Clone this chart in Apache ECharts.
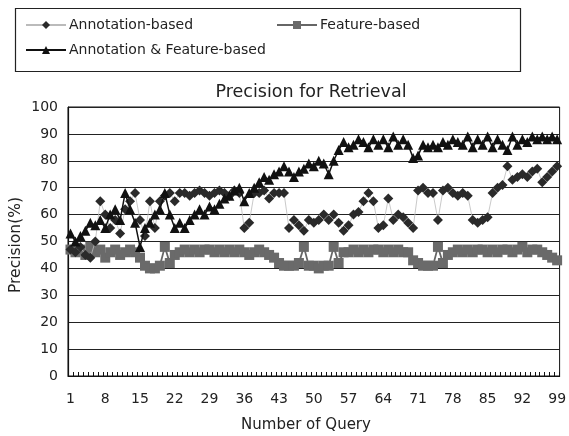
<!DOCTYPE html>
<html>
<head>
<meta charset="utf-8">
<script src="https://cdn.jsdelivr.net/npm/echarts@6/dist/echarts.min.js"></script>
<style>html,body{margin:0;padding:0;background:#fff}#c{width:569px;height:436px}</style>
</head>
<body>
<div id="c"></div>
<script>
var categories = [];
for (var i = 1; i <= 99; i++) categories.push(String(i));

var annotation = [47,46,48,45,44,50,65,60,55,58,53,62,65,68,58,52,65,55,65,67,
  68,65,68,68,67,68,69,68,67,68,69,68,67,69,68,55,57,68,68,69,
  66,68,68,68,55,58,56,54,58,57,58,60,58,60,57,54,56,60,61,65,
  68,65,55,56,66,58,60,59,57,55,69,70,68,68,58,69,70,68,67,68,
  67,58,57,58,59,68,70,71,78,73,74,75,74,76,77,72,74,76,78];

var feature = [47,46,47,45,48,46,47,44,46,47,45,46,47,46,44,41,40,40,41,48,
  42,45,46,47,46,47,46,47,47,46,47,46,47,46,47,46,45,46,47,46,
  45,44,42,41,41,41,42,48,41,41,40,41,41,48,42,46,46,47,46,47,
  46,47,47,46,47,46,47,46,46,43,42,41,41,41,48,42,45,46,47,46,
  47,46,47,47,46,47,46,47,47,46,47,48,46,47,47,46,45,44,43];

var combined = [53,50,52,54,57,56,58,55,60,62,58,68,62,57,48,55,57,60,62,68,
  60,55,57,55,58,60,62,60,63,62,64,66,67,69,70,65,68,70,72,74,
  73,75,76,78,76,74,76,77,79,78,80,79,75,80,84,87,85,86,88,87,
  85,88,86,88,85,89,86,88,86,81,82,86,85,86,85,87,86,88,87,86,
  89,85,88,86,89,85,88,86,84,89,86,88,87,89,88,89,88,89,88];

var yTicks = [0,10,20,30,40,50,60,70,80,90,100];
var seriesNames = ['Annotation-based','Feature-based','Annotation & Feature-based'];

var FONT = 'DejaVu Sans';
var chart = echarts.init(document.getElementById('c'), null, {renderer:'canvas'});
function legendAt(name, left, top){
  return {data:[name], left:left, top:top, orient:'horizontal', itemWidth:40, itemHeight:10,
    itemGap:4, textStyle:{fontFamily:FONT, fontSize:14, color:'#222', padding:[0,0,0,-2]},
    selectedMode:false, padding:0};
}
chart.setOption({
  animation:false,
  backgroundColor:'#fff',
  title:{text:'Precision for Retrieval', left:306, textAlign:'center', top:78,
    textStyle:{fontFamily:FONT, fontSize:17.5, fontWeight:'normal', color:'#222'}},
  graphic:[
    {type:'rect', shape:{x:15.5, y:8.5, width:505, height:63},
      style:{fill:'none', stroke:'#222', lineWidth:1.2}},
    {type:'text', x:306, y:425, style:{text:'Number of Query', x:0, y:0, align:'center', verticalAlign:'middle',
      font:'15px "DejaVu Sans"', fill:'#222'}},
    {type:'text', x:16, y:245, rotation:Math.PI/2, style:{text:'Precision(%)', x:0, y:0, align:'center', verticalAlign:'middle',
      font:'15.5px "DejaVu Sans"', fill:'#222'}}
  ],
  legend:[legendAt(seriesNames[0], 25, 18), legendAt(seriesNames[1], 276, 18), legendAt(seriesNames[2], 25, 43)],
  grid:{left:68, right:3, top:107, bottom:60, show:true, borderColor:'#111', borderWidth:1},
  xAxis:{type:'category', data:categories, boundaryGap:true,
    axisLine:{lineStyle:{color:'#111', width:1.2}},
    axisTick:{show:true, inside:true, length:4, interval:0, lineStyle:{color:'#111'}},
    axisLabel:{interval:6, fontFamily:FONT, fontSize:14, color:'#222', margin:16},
    splitLine:{show:false}},
  yAxis:{type:'value', min:0, max:100, interval:10,
    axisLine:{show:true, lineStyle:{color:'#111', width:1.2}},
    axisTick:{show:false},
    axisLabel:{fontFamily:FONT, fontSize:14, color:'#222', margin:10,
      formatter:function(v){return yTicks.indexOf(v)>=0 ? String(v) : '';}},
    splitLine:{show:true, lineStyle:{color:'#222', width:1}}},
  series:[
    {name:seriesNames[0], type:'line', data:annotation, symbol:'diamond', symbolSize:10, showAllSymbol:true,
      itemStyle:{color:'#2a2a2a'}, lineStyle:{color:'#bbb', width:0.8}, z:3},
    {name:seriesNames[1], type:'line', data:feature, symbol:'rect', symbolSize:10, showAllSymbol:true,
      itemStyle:{color:'#6a6a6a'}, lineStyle:{color:'#666', width:1.8}, z:2},
    {name:seriesNames[2], type:'line', data:combined, symbol:'triangle', symbolSize:10, showAllSymbol:true,
      itemStyle:{color:'#111'}, lineStyle:{color:'#111', width:1.5}, z:4}
  ]
});
</script>
</body>
</html>
